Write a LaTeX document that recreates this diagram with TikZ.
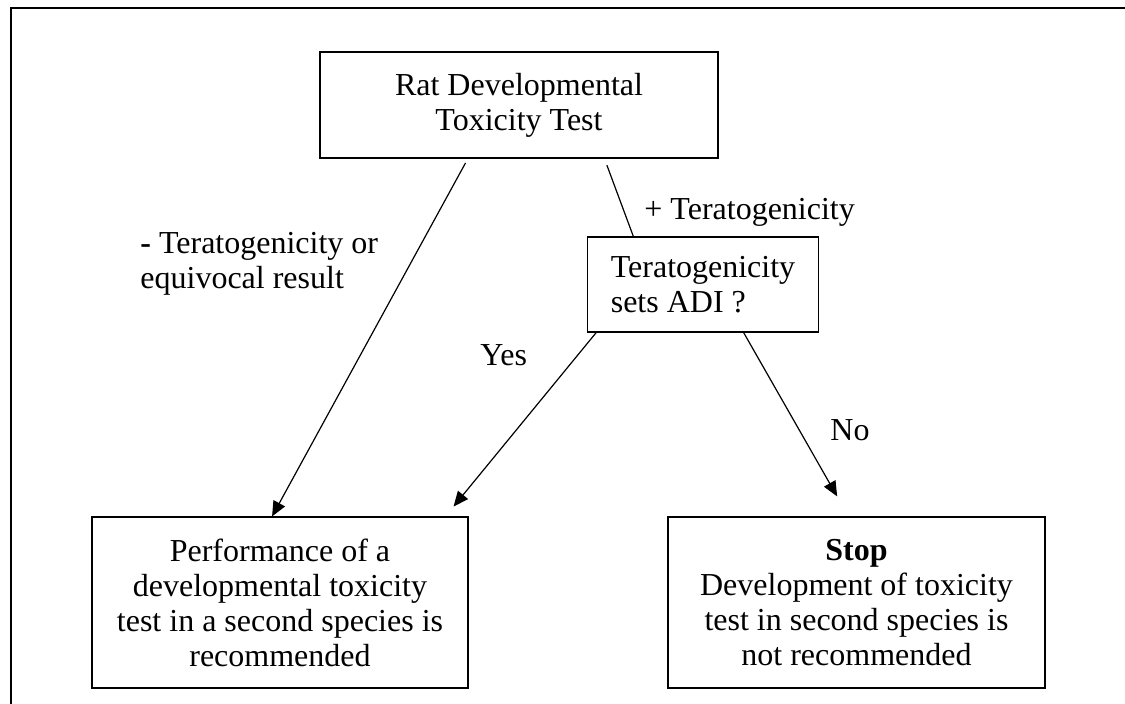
\documentclass[tikz,border=0pt]{standalone}
\usepackage{fontspec}
\setmainfont{Liberation Serif}
\usetikzlibrary{arrows.meta,calc}
\begin{document}
\begin{tikzpicture}[x=0.5pt,y=-0.5pt,
  every node/.style={font=\fontsize{16pt}{17.5pt}\selectfont, inner sep=0pt},
  boxnode/.style={draw, line width=0.6pt, align=center},
  lbl/.style={align=left},
  conn/.style={line width=0.6pt},
  arr/.style={line width=0.6pt, -{Triangle[length=7.5pt,width=6.5pt]}}]
\useasboundingbox (0,0) rectangle (1125,704);
\fill[white] (0,0) rectangle (1125,704);
% outer frame (partial)
\coordinate (fbl) at (11,704);
\coordinate (ftl) at (11,8);
\coordinate (ftr) at (1125,8);
\draw[line width=1pt] (fbl) -- (ftl) -- (ftr);
% boxes
\node[boxnode, minimum width=199pt, minimum height=53pt] (top) at (519,105)
  {Rat Developmental\\Toxicity Test};
\node[boxnode, minimum width=115.5pt, minimum height=47.5pt, align=left] (terat) at (703,284.5)
  {Teratogenicity\\sets ADI ?};
\node[boxnode, minimum width=188pt, minimum height=85.5pt] (left) at (280,602.5)
  {Performance of a\\developmental toxicity\\test in a second species is\\recommended};
\node[boxnode, minimum width=188.5pt, minimum height=85.5pt] (right) at (856.5,602.5)
  {\textbf{Stop}\\Development of toxicity\\test in second species is\\not recommended};
% connectors
\draw[arr, shorten <=2.5pt] ($(top.south west)!0.372!(top.south east)$) -- ($(left.north west)!0.479!(left.north east)$);
\draw[conn, shorten <=3.5pt] ($(top.south west)!0.714!(top.south east)$) -- ($(terat.north west)!0.2!(terat.north east)$);
\draw[arr, shorten >=6.4pt] ($(terat.south west)!0.04!(terat.south east)$) -- ($(left.north west)!0.9386!(left.north east)$);
\draw[arr, shorten >=11.5pt] ($(terat.south west)!0.675!(terat.south east)$) -- ($(right.north west)!0.479!(right.north east)$);
% labels
\node[lbl, anchor=base west] (lneg) at (140,289) {\textbf{-} Teratogenicity or\\equivocal result};
\node[anchor=base west] (lpos) at (644,220) {+ Teratogenicity};
\node[anchor=base west] (lyes) at (480,366) {Yes};
\node[anchor=base west] (lno) at (830,441) {No};
\end{tikzpicture}
\end{document}
